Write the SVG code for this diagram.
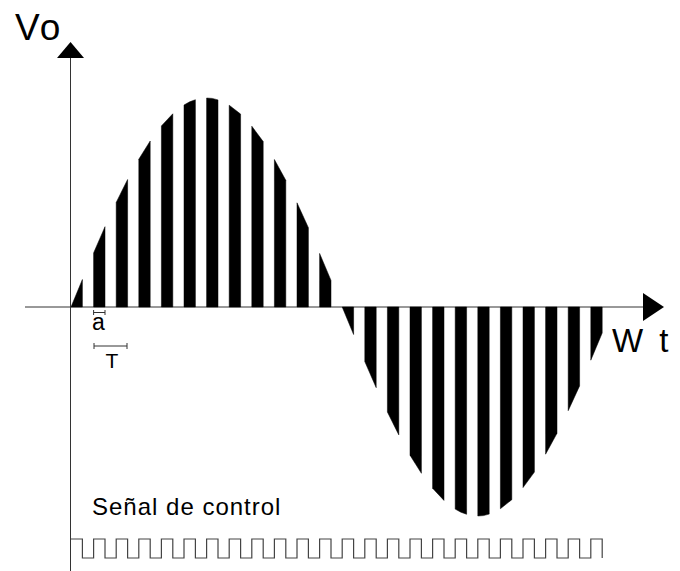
<svg xmlns="http://www.w3.org/2000/svg" width="680" height="571" viewBox="0 0 680 571">
<style>
.ax{stroke:#333;stroke-width:1;fill:none}
.bar{fill:#000;stroke:#000;stroke-width:0.5;stroke-linejoin:round}
.br{stroke:#333;stroke-width:1;fill:none}
.lbl{font-family:"Liberation Sans",Arial,sans-serif;fill:#000}
.sq{stroke:#444;stroke-width:1.2;fill:none}
</style>
<rect width="680" height="571" fill="#fff"/>
<g id="connectors">
<line class="ax" x1="70.5" y1="57" x2="70.5" y2="571"/>
<polygon points="70.5,42 57,58 84,58" fill="#000"/>
<line class="ax" x1="25" y1="307" x2="645" y2="307"/>
<polygon points="643,293 664,307 643,321" fill="#000"/>
</g>
<g id="bars">
<polygon class="bar" points="71,307 82.4,279.5 82.4,307"/>
<polygon class="bar" points="93.6,307 93.6,252.9 105,226.7 105,307"/>
<polygon class="bar" points="116.2,307 116.2,202.4 127.6,179.5 127.6,307"/>
<polygon class="bar" points="138.8,307 138.8,159.2 150.2,141 150.2,307"/>
<polygon class="bar" points="161.4,307 161.4,125.9 172.8,113.8 172.8,307"/>
<polygon class="bar" points="184,307 184,105 189.7,101.8 195.4,99.7 195.4,307"/>
<polygon class="bar" points="206.6,307 206.6,98 212.3,98.4 218,99.9 218,307"/>
<polygon class="bar" points="229.2,307 229.2,105.2 240.6,114.1 240.6,307"/>
<polygon class="bar" points="251.8,307 251.8,126.2 263.2,141.6 263.2,307"/>
<polygon class="bar" points="274.4,307 274.4,159.5 285.8,180.3 285.8,307"/>
<polygon class="bar" points="297,307 297,202.8 308.4,227.7 308.4,307"/>
<polygon class="bar" points="319.6,307 319.6,253.4 331,280.4 331,307"/>
<polygon class="bar" points="342.2,307 353.6,334.5 353.6,307"/>
<polygon class="bar" points="364.8,307 364.8,361.6 376.2,387.7 376.2,307"/>
<polygon class="bar" points="387.4,307 387.4,412 398.8,434.9 398.8,307"/>
<polygon class="bar" points="410,307 410,455.2 421.4,473.3 421.4,307"/>
<polygon class="bar" points="432.6,307 432.6,488.3 444,500.4 444,307"/>
<polygon class="bar" points="455.2,307 455.2,509.1 460.9,512.2 466.6,514.3 466.6,307"/>
<polygon class="bar" points="477.8,307 477.8,516 483.5,515.6 489.2,514.1 489.2,307"/>
<polygon class="bar" points="500.4,307 500.4,508.7 511.8,499.7 511.8,307"/>
<polygon class="bar" points="523,307 523,487.6 534.4,472.1 534.4,307"/>
<polygon class="bar" points="545.6,307 545.6,454.2 557,433.3 557,307"/>
<polygon class="bar" points="568.2,307 568.2,410.7 579.6,385.9 579.6,307"/>
<polygon class="bar" points="590.8,307 590.8,360.2 602.2,333 602.2,307"/>
</g>
<g id="label-vo"><text class="lbl" x="15" y="40" font-size="37" letter-spacing="2">Vo</text></g>
<g id="label-wt"><text class="lbl" x="612" y="352" font-size="33" word-spacing="7">W t</text></g>
<g id="marker-a">
<path class="br" d="M93.6,312.5 H105 M93.6,310 V315 M105,310 V315"/>
<text class="lbl" x="92" y="330" font-size="23">a</text>
</g>
<g id="marker-T">
<path class="br" d="M94,346 H127 M94,343 V349 M127,343 V349"/>
<text class="lbl" x="105.5" y="368" font-size="21">T</text>
</g>
<g id="label-control"><text class="lbl" x="92" y="515" font-size="24" letter-spacing="1">Señal de control</text></g>
<g id="control-signal">
<path class="sq" d="M71,539 H82.4 V558 H93.6 V539 H105 V558 H116.2 V539 H127.6 V558 H138.8 V539 H150.2 V558 H161.4 V539 H172.8 V558 H184 V539 H195.4 V558 H206.6 V539 H218 V558 H229.2 V539 H240.6 V558 H251.8 V539 H263.2 V558 H274.4 V539 H285.8 V558 H297 V539 H308.4 V558 H319.6 V539 H331 V558 H342.2 V539 H353.6 V558 H364.8 V539 H376.2 V558 H387.4 V539 H398.8 V558 H410 V539 H421.4 V558 H432.6 V539 H444 V558 H455.2 V539 H466.6 V558 H477.8 V539 H489.2 V558 H500.4 V539 H511.8 V558 H523 V539 H534.4 V558 H545.6 V539 H557 V558 H568.2 V539 H579.6 V558 H590.8 V539 H602.2 V558"/>
</g>
</svg>
